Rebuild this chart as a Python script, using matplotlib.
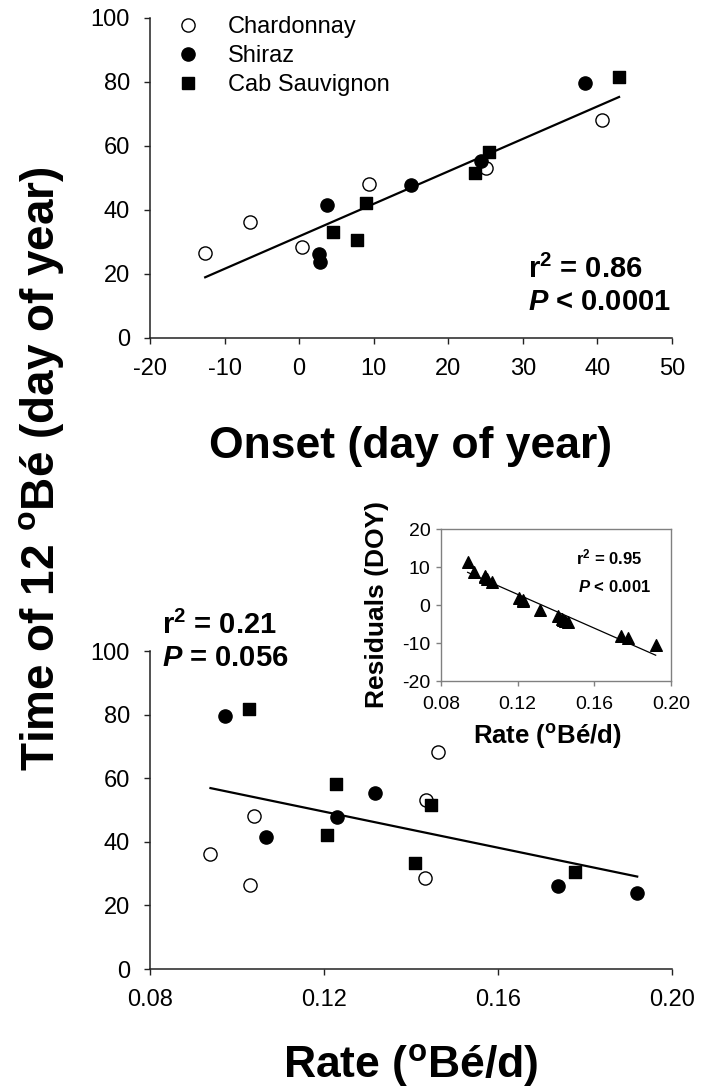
import numpy as np
import matplotlib
matplotlib.use("Agg")
import matplotlib.pyplot as plt
from matplotlib.lines import Line2D

plt.rcParams['font.family'] = ['Liberation Sans', 'DejaVu Sans']
plt.rcParams['mathtext.fontset'] = 'custom'
plt.rcParams['mathtext.rm'] = 'Liberation Sans'
plt.rcParams['mathtext.it'] = 'Liberation Sans:italic'
plt.rcParams['mathtext.bf'] = 'Liberation Sans:bold'
plt.rcParams['mathtext.bfit'] = 'Liberation Sans:italic:bold'
plt.rcParams['axes.unicode_minus'] = False

# Onset (day of year), time of 12 Be (day of year) and ripening rate (Be/d)
chard_onset = [-12.6, -6.6, 0.4, 9.4, 25.0, 40.6]
chard_time = [26.5, 36.3, 28.5, 48.1, 53.0, 68.1]
chard_rate = [0.1030, 0.0939, 0.1432, 0.1039, 0.1434, 0.1461]

shiraz_onset = [2.6, 2.8, 3.7, 15.0, 24.4, 38.3]
shiraz_time = [26.2, 23.8, 41.6, 47.8, 55.3, 79.6]
shiraz_rate = [0.1739, 0.1920, 0.1067, 0.1229, 0.1317, 0.0972]

cab_onset = [4.6, 7.8, 8.9, 23.6, 25.5, 42.9]
cab_time = [33.2, 30.5, 42.1, 51.5, 58.2, 81.7]
cab_rate = [0.1410, 0.1777, 0.1206, 0.1445, 0.1227, 0.1028]

# Residuals of the onset regression against rate
resid_rate = [0.1030, 0.0939, 0.1432, 0.1039, 0.1434, 0.1461,
              0.1739, 0.1920, 0.1067, 0.1229, 0.1317, 0.0972,
              0.1410, 0.1777, 0.1206, 0.1445, 0.1227, 0.1028]
resid_doy = [7.7, 11.4, -3.7, 6.8, -4.0, -4.4,
             -8.1, -10.5, 6.1, 1.0, -1.3, 8.8,
             -2.9, -8.8, 1.8, -4.2, 1.2, 7.3]

varieties = ['Chardonnay', 'Shiraz', 'Cab Sauvignon']
onset_x_ticks = [-20, -10, 0, 10, 20, 30, 40, 50]
rate_x_ticks = [0.08, 0.12, 0.16, 0.20]
time_y_ticks = [0, 20, 40, 60, 80, 100]
resid_y_ticks = [-20, -10, 0, 10, 20]

W, H = 702, 1092
fig = plt.figure(figsize=(W / 100, H / 100), dpi=100)

def fx(px):
    return px / W

def fy(py):
    return 1 - py / H

styles = [
    dict(marker='o', facecolor='white', edgecolor='black', s=90, linewidths=1.0),
    dict(marker='o', facecolor='black', edgecolor='black', s=90, linewidths=1.0),
    dict(marker='s', facecolor='black', edgecolor='black', s=85, linewidths=1.0),
]

onsets = [chard_onset, shiraz_onset, cab_onset]
times = [chard_time, shiraz_time, cab_time]
rates = [chard_rate, shiraz_rate, cab_rate]

tick_size = 17

def style_main(ax):
    for side in ('top', 'right'):
        ax.spines[side].set_visible(False)
    for side in ('left', 'bottom'):
        ax.spines[side].set_linewidth(1.1)
        ax.spines[side].set_color('#222222')
    ax.tick_params(direction='out', length=4.5, width=1.0, colors='#222222',
                   labelsize=tick_size, labelcolor='black', pad=10)

# ---- Top panel: time of 12 Be vs onset ----
ax1 = fig.add_axes([fx(150), fy(338), fx(522), 320 / H])
for x, y, st in zip(onsets, times, styles):
    ax1.scatter(x, y, zorder=3, clip_on=False, **st)
all_on = np.concatenate(onsets)
all_t = np.concatenate(times)
b1, a1 = np.polyfit(all_on, all_t, 1)
xl = np.array([all_on.min(), all_on.max()])
ax1.plot(xl, a1 + b1 * xl, color='black', lw=1.6, zorder=2)
ax1.set_xlim(-20, 50)
ax1.set_ylim(0, 100)
ax1.set_xticks(onset_x_ticks)
ax1.set_yticks(time_y_ticks)
style_main(ax1)

handles = [Line2D([], [], linestyle='none', marker=st['marker'],
                  markerfacecolor=st['facecolor'], markeredgecolor='black',
                  markersize=9.5 if st['marker'] == 'o' else 9.0,
                  markeredgewidth=1.0) for st in styles]
ax1.legend(handles, varieties, loc='upper left', bbox_to_anchor=(0.050, 1.006),
           frameon=False, fontsize=17, handlelength=1.0, handletextpad=1.2,
           labelspacing=0.29, borderpad=0, borderaxespad=0)

ax1.text(30.7, 21.5, r'$\mathbf{r^2}$ = 0.86', fontsize=21, fontweight='bold',
         va='center', ha='left')
ax1.text(30.7, 11.3, r'$\mathbfit{P}$ < 0.0001', fontsize=21, fontweight='bold',
         va='center', ha='left')

# ---- Bottom panel: time of 12 Be vs rate ----
ax2 = fig.add_axes([fx(150), fy(969), fx(522), 318 / H])
for x, y, st in zip(rates, times, styles):
    ax2.scatter(x, y, zorder=3, clip_on=False, **st)
all_r = np.concatenate(rates)
b2, a2 = np.polyfit(all_r, all_t, 1)
rl = np.array([all_r.min(), all_r.max()])
ax2.plot(rl, a2 + b2 * rl, color='black', lw=1.6, zorder=2)
ax2.set_xlim(0.08, 0.20)
ax2.set_ylim(0, 100)
ax2.set_xticks(rate_x_ticks)
ax2.set_xticklabels(['%.2f' % v for v in rate_x_ticks])
ax2.set_yticks(time_y_ticks)
style_main(ax2)

fig.text(fx(162), fy(625), r'$\mathbf{r^2}$ = 0.21', fontsize=21, fontweight='bold',
         va='center', ha='left')
fig.text(fx(162), fy(658), r'$\mathbfit{P}$ = 0.056', fontsize=21, fontweight='bold',
         va='center', ha='left')

# ---- Inset: residuals vs rate ----
ax3 = fig.add_axes([fx(441), fy(681), fx(230), 152 / H])
ax3.scatter(resid_rate, resid_doy, marker='^', s=70, color='black', zorder=3)
b3, a3 = np.polyfit(resid_rate, resid_doy, 1)
rr = np.array([min(resid_rate), max(resid_rate)])
ax3.plot(rr, a3 + b3 * rr, color='black', lw=0.9, zorder=2)
ax3.set_xlim(0.08, 0.20)
ax3.set_ylim(-20, 20)
ax3.set_xticks(rate_x_ticks)
ax3.set_xticklabels(['%.2f' % v for v in rate_x_ticks])
ax3.set_yticks(resid_y_ticks)
for sp in ax3.spines.values():
    sp.set_color('#808080')
    sp.set_linewidth(1.0)
ax3.tick_params(direction='out', length=3.5, width=1.0, colors='#808080',
                labelsize=14, labelcolor='black', pad=4)
ax3.tick_params(axis='x', pad=7)
ax3.text(0.1505, 12.6, r'$\mathbf{r^2}$ = 0.95', fontsize=12, fontweight='bold',
         va='center', ha='left')
ax3.text(0.1515, 4.7, r'$\mathbfit{P}$ < 0.001', fontsize=12, fontweight='bold',
         va='center', ha='left')
fig.text(fx(547), fy(744), r'Rate ($^{\mathbf{o}}$Bé/d)', fontsize=18.5,
         fontweight='bold', ha='center', va='baseline')
fig.text(fx(377), fy(605), 'Residuals (DOY)', fontsize=19, fontweight='bold',
         rotation=90, ha='center', va='center')

# ---- Shared and panel axis titles ----
fig.text(fx(42), fy(469), r'Time of 12 $^{\mathbf{o}}$Bé (day of year)', fontsize=33,
         fontweight='bold', rotation=90, ha='center', va='center')
fig.text(fx(411), fy(458), 'Onset (day of year)', fontsize=32, fontweight='bold',
         ha='center', va='baseline')
fig.text(fx(411), fy(1078), r'Rate ($^{\mathbf{o}}$Bé/d)', fontsize=32,
         fontweight='bold', ha='center', va='baseline')

fig.savefig('out.png', dpi=100)
